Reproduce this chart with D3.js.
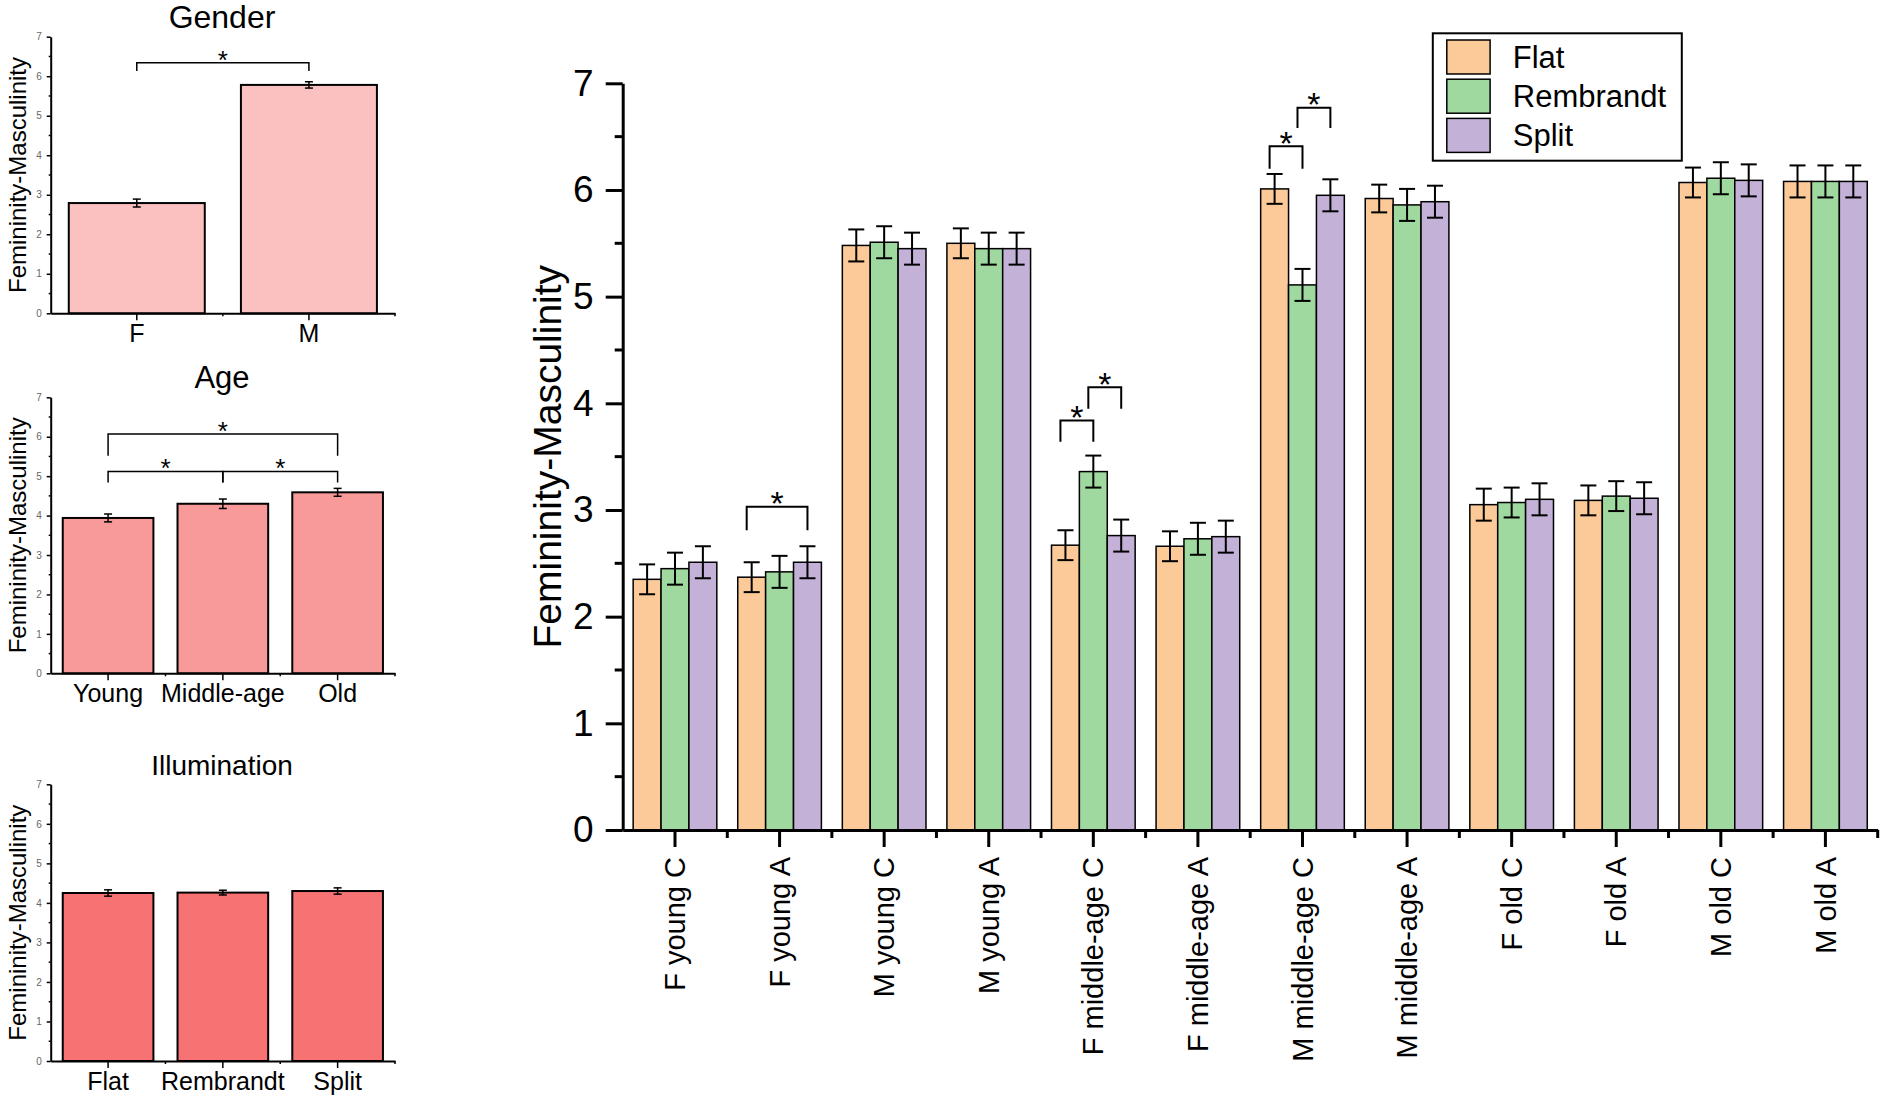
<!DOCTYPE html>
<html>
<head>
<meta charset="utf-8">
<script src="https://cdnjs.cloudflare.com/ajax/libs/d3/7.8.5/d3.min.js"></script>
<style>
  body { margin: 0; background: #fff; }
  text { font-family: Arial, "Liberation Sans", sans-serif; }
</style>
</head>
<body>
<script>
var w = 1887;
var h = 1101;

// --- small panels ---
var genderCats = ["F", "M"];
var genderVals = [2.79, 5.78];
var genderErr = [0.10, 0.08];

var ageCats = ["Young", "Middle-age", "Old"];
var ageVals = [3.94, 4.30, 4.59];
var ageErr = [0.10, 0.12, 0.10];

var illumCats = ["Flat", "Rembrandt", "Split"];
var illumVals = [4.25, 4.26, 4.30];
var illumErr = [0.08, 0.06, 0.08];

var yTicks = [0, 1, 2, 3, 4, 5, 6, 7];
var yMinor = [0.5, 1.5, 2.5, 3.5, 4.5, 5.5, 6.5];

// [from index, to index, bracket top, leg bottom]
var genderSig = [[0, 1, 6.34, 6.13]];
var ageSig = [[0, 1, 5.12, 4.84], [1, 2, 5.12, 4.84], [0, 2, 6.07, 5.52]];
var illumSig = [];

// --- main chart ---
var groups = ["F young C", "F young A", "M young C", "M young A",
  "F middle-age C", "F middle-age A", "M middle-age C", "M middle-age A",
  "F old C", "F old A", "M old C", "M old A"];
var series = ["Flat", "Rembrandt", "Split"];

var flatVals  = [2.35, 2.37, 5.48, 5.50, 2.67, 2.66, 6.01, 5.92, 3.05, 3.09, 6.07, 6.08];
var rembVals  = [2.45, 2.42, 5.51, 5.45, 3.36, 2.73, 5.11, 5.86, 3.07, 3.13, 6.11, 6.08];
var splitVals = [2.51, 2.51, 5.45, 5.45, 2.76, 2.75, 5.95, 5.89, 3.10, 3.11, 6.09, 6.08];

var flatErr  = [0.14, 0.14, 0.15, 0.14, 0.14, 0.14, 0.14, 0.13, 0.15, 0.14, 0.14, 0.15];
var rembErr  = [0.15, 0.15, 0.15, 0.15, 0.15, 0.15, 0.15, 0.15, 0.14, 0.14, 0.15, 0.15];
var splitErr = [0.15, 0.15, 0.15, 0.15, 0.15, 0.15, 0.15, 0.15, 0.15, 0.15, 0.15, 0.15];

// [group, from series, to series, bracket top, leg bottom]
var mainSig = [
  ["F young A", 0, 2, 3.03, 2.81],
  ["F middle-age C", 0, 1, 3.84, 3.64],
  ["F middle-age C", 1, 2, 4.15, 3.95],
  ["M middle-age C", 0, 1, 6.41, 6.20],
  ["M middle-age C", 1, 2, 6.77, 6.58]
];

var seriesColors = ["#FBCA98", "#9FD99F", "#C3B1D8"];

var svg = d3.select("body").append("svg")
  .attr("width", w)
  .attr("height", h);

// ---------- small panels ----------
function smallPanel(cfg) {
  var g = svg.append("g");
  var x = d3.scaleBand().domain(cfg.cats).range([50.7, 395])
    .paddingInner(0.21).paddingOuter(0.105);
  var y = d3.scaleLinear().domain([0, 7]).range([cfg.y0, cfg.y7]);

  g.selectAll("rect.bar")
    .data(cfg.cats)
    .enter().append("rect")
    .attr("x", function (d) { return x(d); })
    .attr("y", function (d, i) { return y(cfg.vals[i]); })
    .attr("width", x.bandwidth())
    .attr("height", function (d, i) { return y(0) - y(cfg.vals[i]); })
    .attr("fill", cfg.color)
    .attr("stroke", "#000")
    .attr("stroke-width", 2);

  cfg.cats.forEach(function (d, i) {
    var cx = x(d) + x.bandwidth() / 2;
    var lo = y(cfg.vals[i] - cfg.err[i]), hi = y(cfg.vals[i] + cfg.err[i]);
    g.append("line").attr("x1", cx).attr("x2", cx).attr("y1", lo).attr("y2", hi)
      .attr("stroke", "#000").attr("stroke-width", 1.5);
    [lo, hi].forEach(function (yy) {
      g.append("line").attr("x1", cx - 4).attr("x2", cx + 4).attr("y1", yy).attr("y2", yy)
        .attr("stroke", "#000").attr("stroke-width", 1.5);
    });
  });

  var yAxis = g.append("g")
    .attr("transform", "translate(50.7,0)")
    .call(d3.axisLeft(y).tickValues(yTicks).tickFormat(d3.format("d"))
      .tickSize(4).tickPadding(5).tickSizeOuter(0));
  yAxis.select(".domain").attr("stroke-width", 2);
  yAxis.selectAll(".tick line").attr("stroke-width", 1.5);
  yAxis.selectAll("text").attr("font-size", 10).attr("fill", "#666");
  yAxis.selectAll("line.minor")
    .data(yMinor)
    .enter().append("line")
    .attr("x1", -2).attr("x2", 0)
    .attr("y1", function (d) { return y(d); })
    .attr("y2", function (d) { return y(d); })
    .attr("stroke", "#000").attr("stroke-width", 1.5);

  var xAxis = g.append("g")
    .attr("transform", "translate(0," + cfg.y0 + ")")
    .call(d3.axisBottom(x).tickSize(7).tickPadding(4).tickSizeOuter(0));
  xAxis.select(".domain").attr("stroke-width", 2);
  xAxis.selectAll(".tick line").attr("stroke-width", 1.5);
  xAxis.selectAll("text").attr("font-size", 25).attr("fill", "#000");
  xAxis.selectAll("line.minor")
    .data(d3.range(1, cfg.cats.length + 1))
    .enter().append("line")
    .attr("x1", function (i) { return x.range()[0] + i * x.step(); })
    .attr("x2", function (i) { return x.range()[0] + i * x.step(); })
    .attr("y1", 0).attr("y2", 3)
    .attr("stroke", "#000").attr("stroke-width", 1.5);

  g.append("text")
    .attr("x", 222).attr("y", cfg.y7 - 9)
    .attr("text-anchor", "middle")
    .attr("font-size", cfg.titleSize)
    .text(cfg.title);

  g.append("text")
    .attr("transform", "translate(26," + ((cfg.y0 + cfg.y7) / 2) + ") rotate(-90)")
    .attr("text-anchor", "middle")
    .attr("font-size", 24)
    .text("Femininity-Masculinity");

  cfg.sig.forEach(function (s) {
    var xa = x(cfg.cats[s[0]]) + x.bandwidth() / 2;
    var xb = x(cfg.cats[s[1]]) + x.bandwidth() / 2;
    var top = y(s[2]), leg = y(s[3]);
    g.append("path")
      .attr("d", "M" + xa + "," + leg + "V" + top + "H" + xb + "V" + leg)
      .attr("fill", "none").attr("stroke", "#000").attr("stroke-width", 1.5);
    g.append("text")
      .attr("x", (xa + xb) / 2).attr("y", top - 9 + 15)
      .attr("text-anchor", "middle")
      .attr("font-size", 26)
      .text("*");
  });
}

smallPanel({title: "Gender", titleSize: 32, cats: genderCats, vals: genderVals, err: genderErr,
  color: "#FBC0C0", y0: 313.3, y7: 36.7, sig: genderSig});
smallPanel({title: "Age", titleSize: 31, cats: ageCats, vals: ageVals, err: ageErr,
  color: "#F99A9A", y0: 673.3, y7: 397.3, sig: ageSig});
smallPanel({title: "Illumination", titleSize: 28, cats: illumCats, vals: illumVals, err: illumErr,
  color: "#F77272", y0: 1061, y7: 784.3, sig: illumSig});

// ---------- main chart ----------
var allVals = [flatVals, rembVals, splitVals];
var allErr = [flatErr, rembErr, splitErr];

var x0 = d3.scaleBand().domain(groups).range([622.7, 1877.7])
  .paddingInner(0.2).paddingOuter(0.1);
var x1 = d3.scaleBand().domain(series).range([0, x0.bandwidth()]);
var y = d3.scaleLinear().domain([0, 7]).range([830, 83.3]);

var main = svg.append("g");

var rows = [];
groups.forEach(function (gName, gi) {
  series.forEach(function (s, si) {
    rows.push({group: gName, series: s, si: si, v: allVals[si][gi], e: allErr[si][gi]});
  });
});

main.selectAll("rect.bar")
  .data(rows)
  .enter().append("rect")
  .attr("x", function (d) { return x0(d.group) + x1(d.series); })
  .attr("y", function (d) { return y(d.v); })
  .attr("width", x1.bandwidth())
  .attr("height", function (d) { return y(0) - y(d.v); })
  .attr("fill", function (d) { return seriesColors[d.si]; })
  .attr("stroke", "#000")
  .attr("stroke-width", 1.5);

rows.forEach(function (d) {
  var cx = x0(d.group) + x1(d.series) + x1.bandwidth() / 2;
  var lo = y(d.v - d.e), hi = y(d.v + d.e);
  main.append("line").attr("x1", cx).attr("x2", cx).attr("y1", lo).attr("y2", hi)
    .attr("stroke", "#000").attr("stroke-width", 2);
  [lo, hi].forEach(function (yy) {
    main.append("line").attr("x1", cx - 8).attr("x2", cx + 8).attr("y1", yy).attr("y2", yy)
      .attr("stroke", "#000").attr("stroke-width", 2);
  });
});

var yAxis = main.append("g")
  .attr("transform", "translate(622.7,0)")
  .call(d3.axisLeft(y).tickValues(yTicks).tickFormat(d3.format("d"))
    .tickSize(17).tickPadding(12).tickSizeOuter(0));
yAxis.select(".domain").attr("stroke-width", 3);
yAxis.selectAll(".tick line").attr("stroke-width", 3);
yAxis.selectAll("text").attr("font-size", 37).attr("fill", "#000");
yAxis.selectAll("line.minor")
  .data(yMinor)
  .enter().append("line")
  .attr("x1", -8).attr("x2", 0)
  .attr("y1", function (d) { return y(d); })
  .attr("y2", function (d) { return y(d); })
  .attr("stroke", "#000").attr("stroke-width", 3);

var xAxis = main.append("g")
  .attr("transform", "translate(0,830)")
  .call(d3.axisBottom(x0).tickSize(17).tickSizeOuter(0));
xAxis.select(".domain").attr("stroke-width", 3);
xAxis.selectAll(".tick line").attr("stroke-width", 3);
xAxis.selectAll("text")
  .attr("font-size", 29)
  .attr("fill", "#000")
  .attr("transform", "rotate(-90)")
  .attr("text-anchor", "end")
  .attr("x", -27)
  .attr("y", 0)
  .attr("dy", "0.35em");
xAxis.selectAll("line.minor")
  .data(d3.range(1, groups.length + 1))
  .enter().append("line")
  .attr("x1", function (i) { return x0.range()[0] + i * x0.step(); })
  .attr("x2", function (i) { return x0.range()[0] + i * x0.step(); })
  .attr("y1", 0).attr("y2", 8)
  .attr("stroke", "#000").attr("stroke-width", 3);

main.append("text")
  .attr("transform", "translate(561,456.7) rotate(-90)")
  .attr("text-anchor", "middle")
  .attr("font-size", 39)
  .text("Femininity-Masculinity");

mainSig.forEach(function (s) {
  var xa = x0(s[0]) + x1(series[s[1]]) + x1.bandwidth() / 2 - 5;
  var xb = x0(s[0]) + x1(series[s[2]]) + x1.bandwidth() / 2;
  var top = y(s[3]), leg = y(s[4]);
  main.append("path")
    .attr("d", "M" + xa + "," + leg + "V" + top + "H" + xb + "V" + leg)
    .attr("fill", "none").attr("stroke", "#000").attr("stroke-width", 2);
  main.append("text")
    .attr("x", (xa + xb) / 2).attr("y", top - 11 + 19.5)
    .attr("text-anchor", "middle")
    .attr("font-size", 34)
    .text("*");
});

// legend
var legend = main.append("g").attr("transform", "translate(1432.8,33.3)");
legend.append("rect")
  .attr("width", 249).attr("height", 127.4)
  .attr("fill", "#fff").attr("stroke", "#000").attr("stroke-width", 2);
var item = legend.selectAll("g.item")
  .data(series)
  .enter().append("g")
  .attr("transform", function (d, i) { return "translate(14," + (6.7 + i * 39.2) + ")"; });
item.append("rect")
  .attr("width", 43.3).attr("height", 34)
  .attr("fill", function (d, i) { return seriesColors[i]; })
  .attr("stroke", "#000").attr("stroke-width", 1.5);
item.append("text")
  .attr("x", 66).attr("y", 17).attr("dy", "0.35em")
  .attr("font-size", 31)
  .text(function (d) { return d; });
</script>
</body>
</html>
